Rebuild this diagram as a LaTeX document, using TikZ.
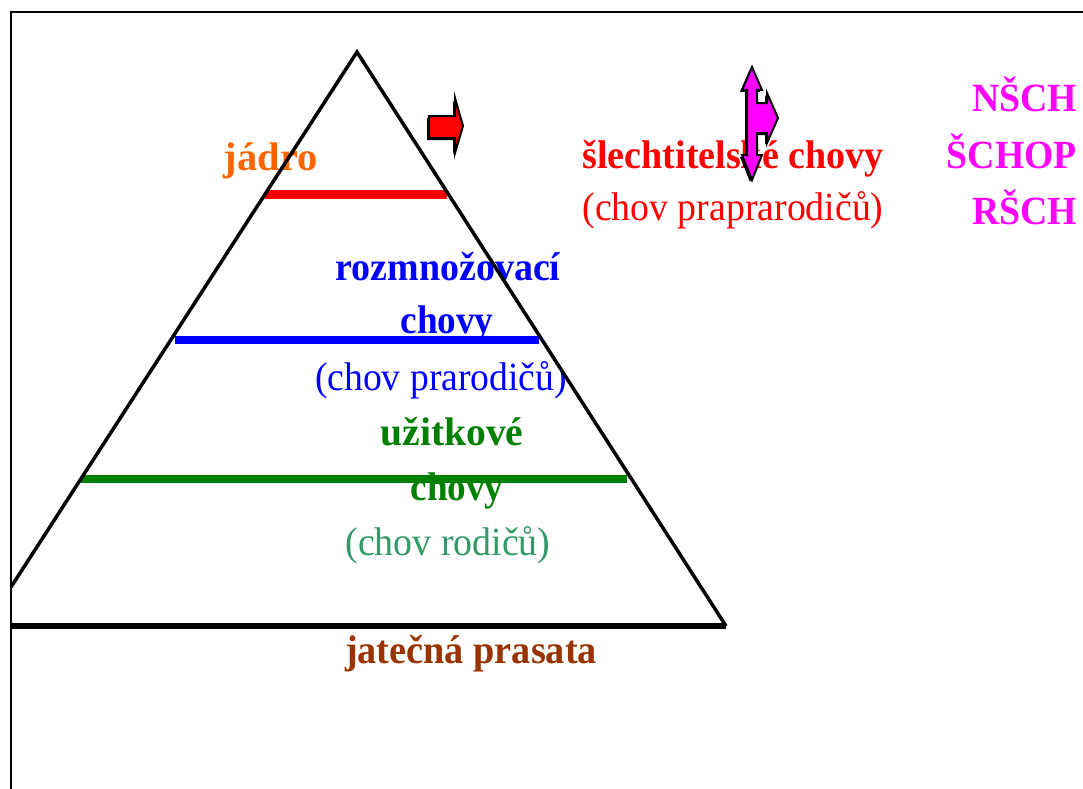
\documentclass[tikz,border=0pt]{standalone}
\usepackage{fontspec}
\setmainfont{Liberation Serif}
\usepackage{graphicx}
\definecolor{jorange}{HTML}{FF6600}
\definecolor{jred}{HTML}{FF0000}
\definecolor{jblue}{HTML}{0000FF}
\definecolor{jgreen}{HTML}{008000}
\definecolor{jsea}{HTML}{339966}
\definecolor{jbrown}{HTML}{993300}
\definecolor{jmag}{HTML}{FF00FF}
\newcommand{\fitw}[2]{\resizebox{#1bp}{\height}{#2}}
\tikzset{
  lbl/.style={inner sep=0pt, outer sep=0pt, anchor=base, font=\fontsize{40bp}{48bp}\selectfont},
  blbl/.style={lbl, font=\fontsize{40bp}{48bp}\selectfont\bfseries},
  levelline/.style={line width=8.5bp},
  tri/.style={line width=3.5bp, line join=miter},
  arrowshape/.style={draw=black, line width=2bp, line join=miter}
}
\begin{document}
\begin{tikzpicture}[x=1bp,y=-1bp]
\useasboundingbox (0,0) rectangle (1083,789);
% frame
\coordinate (fbl) at (11,789);
\coordinate (ftl) at (11,12);
\coordinate (ftr) at (1083,12);
\draw[line width=2.5bp] (fbl) -- (ftl) -- (ftr);

% texts
\node[blbl, text=jorange] (jadro) at (271,170) {\fitw{94}{jádro}};
\node[blbl, text=jred] (slecht) at (733,168) {\fitw{301}{šlechtitelské chovy}};
\node[lbl, text=jred] (prapra) at (733,220) {\fitw{301}{(chov praprarodičů)}};
\node[blbl, text=jmag, anchor=base east] (nsch) at (1077,112) {\fitw{105}{NŠCH}};
\node[blbl, text=jmag, anchor=base east] (schop) at (1077,168) {\fitw{130}{ŠCHOP}};
\node[blbl, text=jmag, anchor=base east] (rsch) at (1077,224) {\fitw{105}{RŠCH}};
\node[blbl, text=jblue] (rozm) at (448,280) {\fitw{225}{rozmnožovací}};
\node[blbl, text=jblue] (chovb) at (447,333) {\fitw{93}{chovy}};
\node[lbl, text=jblue] (prar) at (441,390) {\fitw{252}{(chov prarodičů)}};
\node[blbl, text=jgreen] (uzit) at (452,445) {\fitw{143}{užitkové}};
\node[blbl, text=jgreen] (chovg) at (457,500) {\fitw{93}{chovy}};
\node[lbl, text=jsea] (rod) at (448,555) {\fitw{205}{(chov rodičů)}};
\node[blbl, text=jbrown] (jat) at (471,663) {\fitw{252}{jatečná prasata}};

% level lines
\coordinate (r1) at (265,194.5); \coordinate (r2) at (447,194.5);
\coordinate (b1) at (175,340); \coordinate (b2) at (539,340);
\coordinate (g1) at (81,479); \coordinate (g2) at (627,479);
\draw[levelline, jred] (r1) -- (r2);
\draw[levelline, jblue] (b1) -- (b2);
\draw[levelline, jgreen] (g1) -- (g2);

% triangle
\coordinate (apex) at (357,52);
\coordinate (tl) at (11,587);
\coordinate (tr) at (726,626);
\coordinate (bl) at (11,626);
\draw[tri] (tl) -- (apex) -- (tr);
\draw[line width=6.5bp] (bl) -- (tr);

% red arrow
\fill[black] (427,118) -- (453,118) -- (453,100) -- (461,128) -- (453,155) -- (453,140) -- (427,140) -- cycle;
\draw[arrowshape, fill=jred] (429,116) -- (455,116) -- (455,98) -- (463,126) -- (455,153) -- (455,138) -- (429,138) -- cycle;

% magenta arrow
\fill[black] (750,69) -- (760,92) -- (755,92) -- (755,105) -- (765,105) -- (765,95) -- (776,120) -- (765,145) -- (765,135) -- (755,135) -- (755,157) -- (760,157) -- (750,182) -- (740,157) -- (745,157) -- (745,92) -- (740,92) -- cycle;
\draw[arrowshape, fill=jmag] (752,67) -- (762,90) -- (757,90) -- (757,103) -- (767,103) -- (767,93) -- (778,118) -- (767,143) -- (767,133) -- (757,133) -- (757,155) -- (762,155) -- (752,180) -- (742,155) -- (747,155) -- (747,90) -- (742,90) -- cycle;
\end{tikzpicture}
\end{document}
